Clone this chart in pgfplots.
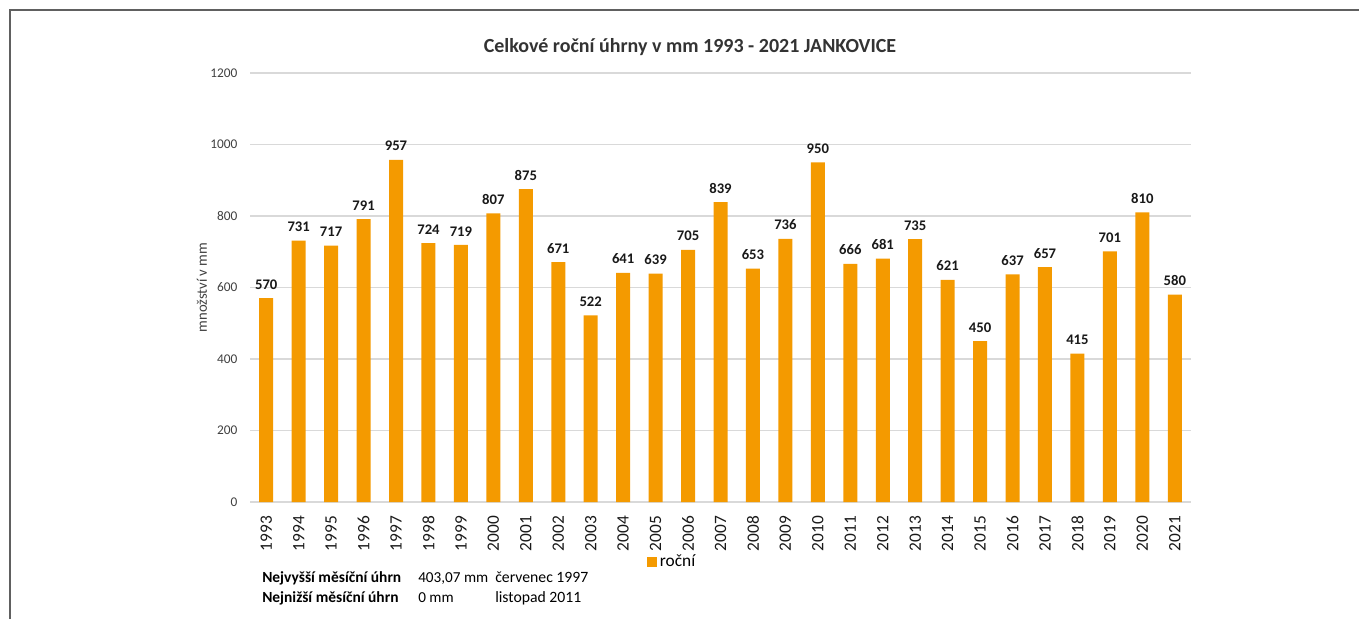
\documentclass[border=0pt]{standalone}
\usepackage{fontspec}
\setmainfont{Carlito}
\usepackage{pgfplots}
\pgfplotsset{compat=1.18}
\definecolor{barorange}{HTML}{F49A00}
\definecolor{gridgray}{HTML}{D9D9D9}
\definecolor{ticktext}{HTML}{404040}
\definecolor{framegray}{HTML}{606060}
\begin{document}
\begin{tikzpicture}[x=0.75pt,y=0.75pt]
\path[use as bounding box] (0,0) rectangle (1359,619);
\draw[framegray, line width=1.2pt] (10,0) -- (10,609) -- (1359,609);
\begin{axis}[
  at={(187.5pt,87.75pt)}, anchor=south west,
  scale only axis,
  width=705.75pt, height=321.75pt,
  xmin=-0.5, xmax=28.5, ymin=0, ymax=1200,
  /pgf/number format/assume math mode=true,
  /pgf/number format/1000 sep={},
  ytick={0,200,400,600,800,1000,1200},
  xtick={0,...,28},
  xticklabels={1993,1994,1995,1996,1997,1998,1999,2000,2001,2002,2003,2004,2005,2006,2007,2008,2009,2010,2011,2012,2013,2014,2015,2016,2017,2018,2019,2020,2021},
  xticklabel style={rotate=90, anchor=east, font=\fontsize{13}{14}\selectfont, text=black!90},
  yticklabel style={font=\fontsize{10}{11}\selectfont, text=ticktext},
  major tick length=0pt,
  axis lines=left,
  x axis line style={gridgray, line width=1pt, -},
  y axis line style={draw=none},
  ymajorgrids,
  grid style={gridgray, line width=0.9pt},
  xticklabel shift=7pt,
  yticklabel shift=6pt,
  ylabel={množství v mm},
  ylabel style={font=\fontsize{11}{13}\selectfont, text=ticktext, at={(ticklabel cs:0.5)}, yshift=-4.5pt},
  ybar, bar width=10.5pt,
  nodes near coords,
  nodes near coords style={font=\bfseries\fontsize{11}{12}\selectfont, text=black!90, inner sep=0pt, anchor=south, yshift=6.5pt},
  legend style={at={(0.4219,-0.1399)}, anchor=west, draw=none, fill=none, font=\fontsize{13}{14}\selectfont, inner sep=0pt, /tikz/every even column/.append style={column sep=2pt}},
  legend image code/.code={\fill[barorange] (0pt,-3.75pt) rectangle (7.5pt,3.75pt);},
  clip=false,
]
\addplot[fill=barorange, draw=none] coordinates {
(0,570) (1,731) (2,717) (3,791) (4,957) (5,724) (6,719) (7,807) (8,875) (9,671)
(10,522) (11,641) (12,639) (13,705) (14,839) (15,653) (16,736) (17,950) (18,666) (19,681)
(20,735) (21,621) (22,450) (23,637) (24,657) (25,415) (26,701) (27,810) (28,580)
};
\addlegendentry{roční}
\end{axis}
\node[font=\bfseries\fontsize{15}{17}\selectfont, text=ticktext!80!black] at (690,572) {Celkové roční úhrny v mm 1993 - 2021 JANKOVICE};
\node[font=\bfseries\fontsize{11.6}{13}\selectfont, anchor=base west, inner sep=0pt] at (262,37) {Nejvyšší měsíční úhrn};
\node[font=\fontsize{11.4}{13}\selectfont, anchor=base west, inner sep=0pt] at (418,37) {403,07 mm};
\node[font=\fontsize{11.8}{13}\selectfont, anchor=base west, inner sep=0pt] at (495,37) {červenec 1997};
\node[font=\bfseries\fontsize{11.6}{13}\selectfont, anchor=base west, inner sep=0pt] at (262,17) {Nejnižší měsíční úhrn};
\node[font=\fontsize{11.4}{13}\selectfont, anchor=base west, inner sep=0pt] at (418,17) {0 mm};
\node[font=\fontsize{11.8}{13}\selectfont, anchor=base west, inner sep=0pt] at (495,17) {listopad 2011};
\end{tikzpicture}
\end{document}
